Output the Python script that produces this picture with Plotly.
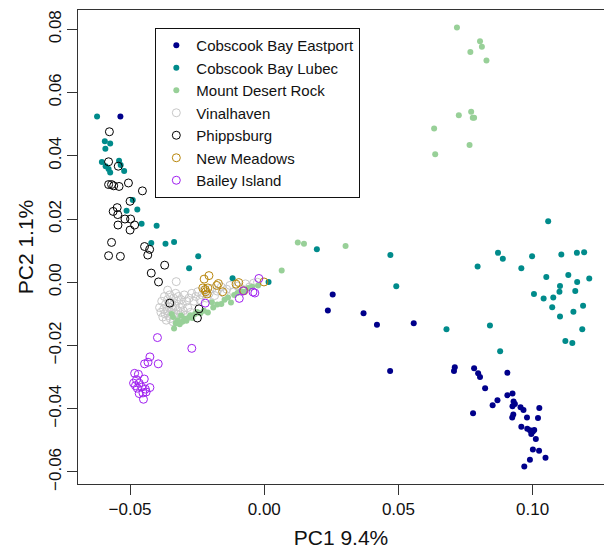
import plotly.graph_objects as go

# ---------------- data (PC1, PC2) ----------------
eastport_x = [-0.0536, 0.0255, 0.0237, 0.0370, 0.0420, 0.0557, 0.0469, 0.0707, 0.0710, 0.0782,
              0.0797, 0.0804, 0.0823, 0.0778, 0.0906, 0.0851, 0.0869, 0.0906, 0.0925, 0.0929,
              0.0934, 0.0925, 0.0928, 0.0924, 0.0955, 0.0966, 0.0979, 0.1025, 0.1020, 0.0958,
              0.0980, 0.0990, 0.1001, 0.1006, 0.0995, 0.1012, 0.1001, 0.1024, 0.1048, 0.0990,
              0.0969]
eastport_y = [0.0524, -0.0039, -0.0089, -0.0098, -0.0134, -0.0130, -0.0281, -0.0281, -0.0269, -0.0272,
              -0.0288, -0.0300, -0.0335, -0.0414, -0.0286, -0.0389, -0.0373, -0.0357, -0.0352, -0.0377,
              -0.0385, -0.0392, -0.0418, -0.0428, -0.0395, -0.0404, -0.0428, -0.0398, -0.0429, -0.0457,
              -0.0463, -0.0468, -0.0472, -0.0467, -0.0480, -0.0496, -0.0529, -0.0533, -0.0555, -0.0561,
              -0.0583]

lubec_x = [-0.0623, -0.0594, -0.0574, -0.0592, -0.0605, -0.0591, -0.0580, -0.0574, -0.0541, -0.0535,
           -0.0522, -0.0513, -0.0490, -0.0473, -0.0457, -0.0401, -0.0421, -0.0368, -0.0336, -0.0246,
           -0.0280, -0.0118, 0.0016, 0.0196, 0.0470, 0.0492, 0.0679, 0.0795, 0.0841, 0.0871,
           0.0889, 0.0879, 0.0958, 0.0998, 0.1005, 0.1041, 0.1051, 0.1058, 0.1073, 0.1077,
           0.1100, 0.1102, 0.1102, 0.1107, 0.1122, 0.1133, 0.1148, 0.1152, 0.1159, 0.1165,
           0.1166, 0.1185, 0.1188, 0.1192, 0.1211]
lubec_y = [0.0524, 0.0446, 0.0439, 0.0422, 0.0380, 0.0367, 0.0358, 0.0347, 0.0384, 0.0371,
           0.0352, 0.0226, 0.0260, 0.0230, 0.0185, 0.0179, 0.0124, 0.0122, 0.0127, 0.0082,
           0.0044, 0.0013, 0.0001, 0.0104, 0.0086, -0.0013, -0.0149, 0.0050, -0.0137, 0.0093,
           0.0074, -0.0218, 0.0044, 0.0082, -0.0037, -0.0051, 0.0017, 0.0193, -0.0079, -0.0048,
           -0.0030, -0.0012, -0.0108, 0.0088, -0.0186, 0.0023, -0.0192, -0.0093, -0.0028, 0.0093,
           0.0001, -0.0149, -0.0074, 0.0095, 0.0012]

mdr_x = [0.0718, 0.0804, 0.0811, 0.0768, 0.0828, 0.0725, 0.0771, 0.0777, 0.0782, 0.0633,
         0.0765, 0.0637, 0.0125, 0.0148, 0.0303, 0.0065,
         -0.0336, -0.0330, -0.0322, -0.0315, -0.0305, -0.0298, -0.0290, -0.0282, -0.0275, -0.0268,
         -0.0258, -0.0250, -0.0238, -0.0225, -0.0210, -0.0195, -0.0190, -0.0175, -0.0160, -0.0148,
         -0.0135, -0.0124, -0.0112, -0.0100, -0.0088, -0.0075, -0.0060, -0.0045, -0.0023, -0.0340,
         -0.0345, -0.0310]
mdr_y = [0.0806, 0.0762, 0.0745, 0.0728, 0.0701, 0.0528, 0.0539, 0.0520, 0.0520, 0.0486,
         0.0434, 0.0405, 0.0126, 0.0122, 0.0115, 0.0037,
         -0.0146, -0.0130, -0.0120, -0.0133, -0.0125, -0.0115, -0.0122, -0.0112, -0.0104, -0.0113,
         -0.0100, -0.0094, -0.0098, -0.0090, -0.0096, -0.0063, -0.0080, -0.0070, -0.0069, -0.0055,
         -0.0048, -0.0064, -0.0040, -0.0034, -0.0028, -0.0030, -0.0018, -0.0014, -0.0010, -0.0110,
         -0.0100, -0.0105]

vinal_x = [-0.0390, -0.0385, -0.0382, -0.0378, -0.0375, -0.0372, -0.0370, -0.0368, -0.0365, -0.0362,
           -0.0360, -0.0357, -0.0355, -0.0352, -0.0350, -0.0348, -0.0345, -0.0342, -0.0340, -0.0338,
           -0.0335, -0.0332, -0.0330, -0.0328, -0.0325, -0.0322, -0.0320, -0.0318, -0.0315, -0.0312,
           -0.0310, -0.0305, -0.0302, -0.0298, -0.0295, -0.0290, -0.0285, -0.0280, -0.0275, -0.0270,
           -0.0328, -0.0360,
           -0.0262, -0.0255, -0.0248, -0.0240, -0.0232, -0.0225, -0.0215, -0.0205, -0.0195, -0.0185,
           -0.0175, -0.0160, -0.0150, -0.0140, -0.0128, -0.0115, -0.0100, -0.0085, -0.0070, -0.0055,
           -0.0040, -0.0025]
vinal_y = [-0.0080, -0.0095, -0.0060, -0.0110, -0.0085, -0.0045, -0.0100, -0.0070, -0.0120, -0.0090,
           -0.0055, -0.0105, -0.0078, -0.0040, -0.0115, -0.0095, -0.0065, -0.0085, -0.0125, -0.0050,
           -0.0100, -0.0075, -0.0035, -0.0110, -0.0060, -0.0090, -0.0045, -0.0120, -0.0080, -0.0100,
           -0.0055, -0.0070, -0.0090, -0.0040, -0.0105, -0.0060, -0.0080, -0.0050, -0.0095, -0.0035,
           0.0002, -0.0025,
           -0.0060, -0.0045, -0.0030, -0.0055, -0.0040, -0.0025, -0.0050, -0.0035, -0.0020, -0.0042,
           -0.0028, -0.0015, -0.0035, -0.0022, -0.0010, -0.0030, -0.0012, -0.0020, -0.0005, -0.0015,
           -0.0003, 0.0000]

phipps_x = [-0.0577, -0.0580, -0.0544, -0.0580, -0.0569, -0.0561, -0.0541, -0.0506, -0.0454, -0.0500,
            -0.0548, -0.0563, -0.0546, -0.0519, -0.0498, -0.0483, -0.0545, -0.0500, -0.0569, -0.0446,
            -0.0427, -0.0434, -0.0580, -0.0536, -0.0371, -0.0421, -0.0394, -0.0352, -0.0243, -0.0249]
phipps_y = [0.0476, 0.0381, 0.0367, 0.0309, 0.0309, 0.0305, 0.0303, 0.0314, 0.0289, 0.0256,
            0.0236, 0.0224, 0.0214, 0.0200, 0.0200, 0.0181, 0.0181, 0.0165, 0.0126, 0.0113,
            0.0104, 0.0086, 0.0084, 0.0082, 0.0054, 0.0029, 0.0001, -0.0066, -0.0084, -0.0113]

newmead_x = [-0.0224, -0.0206, -0.0229, -0.0220, -0.0210, -0.0213, -0.0177, -0.0171, -0.0155, -0.0105,
             -0.0095, -0.0076, -0.0001, -0.0218]
newmead_y = [0.0010, 0.0021, -0.0018, -0.0023, -0.0018, -0.0037, -0.0010, -0.0004, -0.0030, -0.0006,
             -0.0001, -0.0027, 0.0001, -0.0030]

bailey_x = [-0.0020, -0.0093, -0.0042, -0.0035, -0.0220, -0.0270, -0.0398, -0.0395, -0.0426, -0.0433,
            -0.0446, -0.0483, -0.0469, -0.0447, -0.0476, -0.0487, -0.0480, -0.0466, -0.0457, -0.0443,
            -0.0426, -0.0466, -0.0452, -0.0440, -0.0450, -0.0473, -0.0078]
bailey_y = [0.0012, -0.0051, -0.0031, -0.0034, -0.0066, -0.0209, -0.0175, -0.0258, -0.0236, -0.0253,
            -0.0258, -0.0288, -0.0291, -0.0306, -0.0308, -0.0319, -0.0327, -0.0319, -0.0332, -0.0338,
            -0.0333, -0.0352, -0.0350, -0.0347, -0.0370, -0.0335, -0.0027]

x_tickvals = [-0.05, 0.0, 0.05, 0.10]
x_ticktext = ["\u22120.05", "0.00", "0.05", "0.10"]
y_tickvals = [-0.06, -0.04, -0.02, 0.0, 0.02, 0.04, 0.06, 0.08]
y_ticktext = ["\u22120.06", "\u22120.04", "\u22120.02", "0.00", "0.02", "0.04", "0.06", "0.08"]

FONT = "Liberation Sans, Arial, Helvetica, sans-serif"

# (name, x, y, color, filled, legend rank) in drawing order
series = [
    ("Vinalhaven", vinal_x, vinal_y, "#C8C8C8", False, 4),
    ("Mount Desert Rock", mdr_x, mdr_y, "#98D098", True, 3),
    ("Cobscook Bay Eastport", eastport_x, eastport_y, "#00008B", True, 1),
    ("Cobscook Bay Lubec", lubec_x, lubec_y, "#008B8B", True, 2),
    ("Phippsburg", phipps_x, phipps_y, "#000000", False, 5),
    ("New Meadows", newmead_x, newmead_y, "#B8860B", False, 6),
    ("Bailey Island", bailey_x, bailey_y, "#A020F0", False, 7),
]

fig = go.Figure()
for name, xs, ys, col, filled, rank in series:
    if filled:
        marker = dict(color=col, size=6, line=dict(width=0))
    else:
        marker = dict(symbol="circle-open", color=col, size=8, line=dict(width=1, color=col))
    fig.add_trace(go.Scatter(x=xs, y=ys, mode="markers", name=name, marker=marker,
                             legendrank=rank))

axis_common = dict(
    showgrid=False, zeroline=False, showline=True, mirror=True,
    linecolor="#333333", linewidth=1, ticks="outside", ticklen=10,
    tickcolor="#333333", tickwidth=1,
    tickfont=dict(family=FONT, size=17, color="#111111"),
)

fig.update_layout(
    width=604, height=554,
    margin=dict(l=78, r=0, t=10, b=70),
    paper_bgcolor="white", plot_bgcolor="white",
    font=dict(family=FONT, color="#111111"),
    showlegend=True,
    legend=dict(
        x=0.147, y=0.962, xanchor="left", yanchor="top",
        bordercolor="#111111", borderwidth=1, bgcolor="white",
        font=dict(family=FONT, size=15, color="#111111"),
        itemwidth=30, tracegroupgap=0,
    ),
    xaxis=dict(range=[-0.0694, 0.1266], tickvals=x_tickvals, ticktext=x_ticktext,
               title=dict(text="PC1 9.4%", font=dict(family=FONT, size=21, color="#111111"), standoff=11),
               automargin=False, **axis_common),
    yaxis=dict(range=[-0.0638, 0.0861], tickvals=y_tickvals, ticktext=y_ticktext, tickangle=-90,
               ticklabelstandoff=-1,
               title=dict(text="PC2 1.1%", font=dict(family=FONT, size=21, color="#111111"), standoff=6),
               automargin=False, **axis_common),
)

fig.write_html("out.html")
